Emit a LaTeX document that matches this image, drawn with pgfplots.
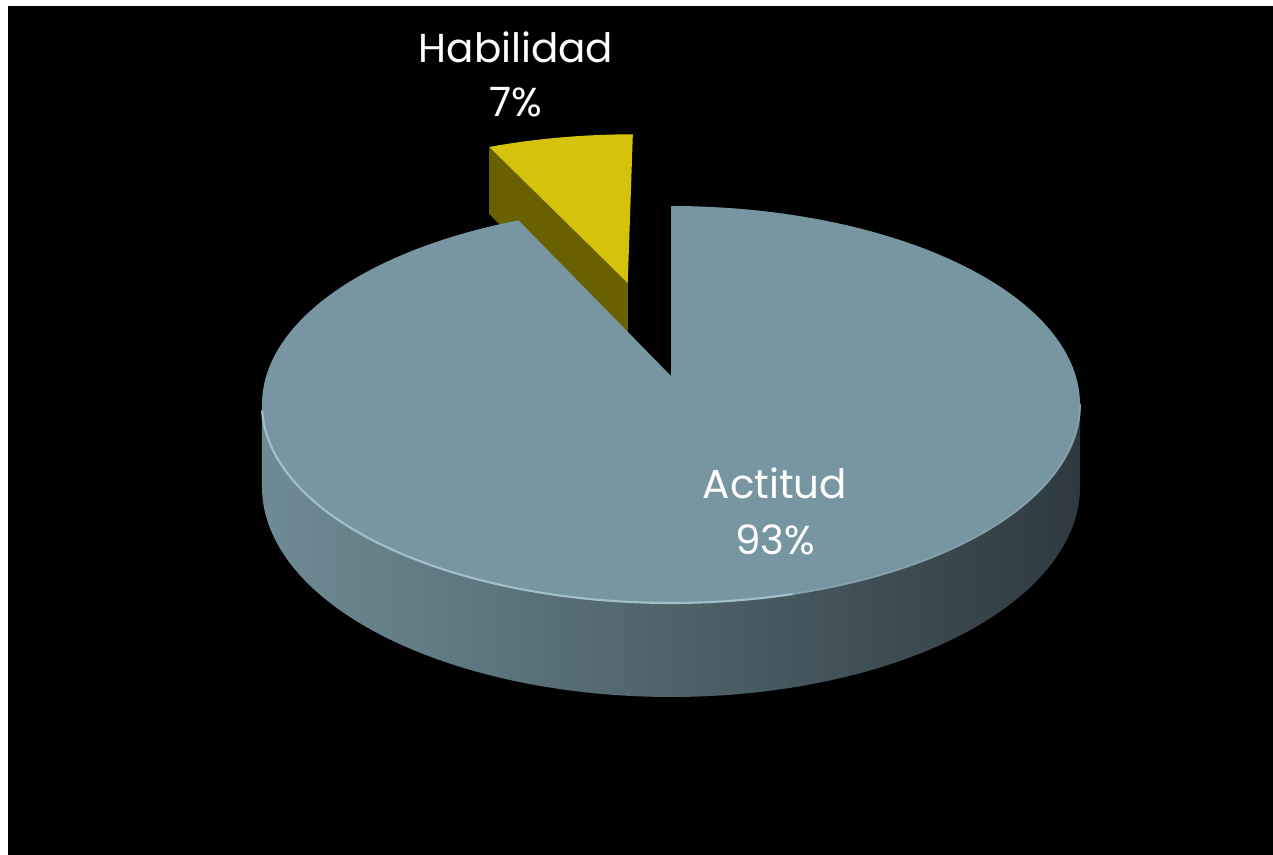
\documentclass[border=0pt]{standalone}
\usepackage{pgfplots}
\pgfplotsset{compat=1.18}
\usepackage{fontspec}
\setmainfont{Poppins}
\definecolor{topblue}{HTML}{7896A2}
\definecolor{rimblue}{HTML}{A3BFCA}
\definecolor{rimfaint}{HTML}{86A3AE}
\definecolor{sideL}{HTML}{6F8B95}
\definecolor{sideR}{HTML}{2E3A40}
\definecolor{habyellow}{HTML}{D4C20B}
\definecolor{habolive}{HTML}{696000}
% data (percent)
\def\valAct{93}
\def\valHab{7}
\tikzset{declare function={
  PX(\u,\v)=671+404.8*\u/(1+0.1436*\v);
  PY(\u,\v)=376-194.4*\v/(1+0.1436*\v);
  DP(\v)=80.5/(1+0.1436*\v);
  rr(\s)=((\s<-0.5)||(\s>200.5))?0:1;
  ang(\s,\ta,\tb)=\ta+(\tb-\ta)*min(max(\s,0),200)/200;
  sa(\s)=(\s<=200)?(188.26+163.48*\s/200):(351.74-163.48*(\s-201)/199);
  sd(\s)=(\s<=200)?0:1;
}}
\begin{document}
\begin{tikzpicture}
\pgfmathsetmacro\hS{90}
\pgfmathsetmacro\hE{90+3.6*\valHab}
\pgfmathsetmacro\aS{\hE}
\pgfmathsetmacro\aE{\hE+3.6*\valAct}
\pgfmathsetmacro\hM{(\hS+\hE)/2}
\pgfmathsetmacro\ox{0.526*cos(\hM)}
\pgfmathsetmacro\oy{0.526*sin(\hM)}
\pgfmathsetmacro\exu{\ox+cos(\hE)}
\pgfmathsetmacro\exv{\oy+sin(\hE)}
\pgfmathsetmacro\vxT{PX(\ox,\oy)}
\pgfmathsetmacro\vyT{PY(\ox,\oy)}
\pgfmathsetmacro\vyB{\vyT+DP(\oy)}
\pgfmathsetmacro\exT{PX(\exu,\exv)}
\pgfmathsetmacro\eyT{PY(\exu,\exv)}
\pgfmathsetmacro\eyB{\eyT+DP(\exv)}
\begin{axis}[width=12.73cm,height=8.55cm,scale only axis,
  xmin=0,xmax=1273,ymin=0,ymax=855,y dir=reverse,hide axis,no markers]
\fill[white] (axis cs:0,0) rectangle (axis cs:1273,855);
\fill[black] (axis cs:8,6) rectangle (axis cs:1273,855);
% Habilidad: cut face
\addplot[fill=habolive,draw=none] coordinates {(\vxT,\vyT) (\exT,\eyT) (\exT,\eyB) (\vxT,\vyB)};
% Habilidad: top
\addplot[fill=habyellow,draw=none,variable=\s,samples at={-1,0,...,201}]
  ({PX(\ox+rr(\s)*cos(ang(\s,\hS,\hE)),\oy+rr(\s)*sin(ang(\s,\hS,\hE)))},
   {PY(\ox+rr(\s)*cos(ang(\s,\hS,\hE)),\oy+rr(\s)*sin(ang(\s,\hS,\hE)))});
% Actitud: side
\addplot[draw=none,left color=sideL,right color=sideR,variable=\s,samples at={0,1,...,400}]
  ({PX(cos(sa(\s)),sin(sa(\s)))},
   {PY(cos(sa(\s)),sin(sa(\s)))+sd(\s)*DP(sin(sa(\s)))});
% Actitud: top
\addplot[fill=topblue,draw=none,variable=\s,samples at={-1,0,...,201}]
  ({PX(rr(\s)*cos(ang(\s,\aS,\aE)),rr(\s)*sin(ang(\s,\aS,\aE)))},
   {PY(rr(\s)*cos(ang(\s,\aS,\aE)),rr(\s)*sin(ang(\s,\aS,\aE)))});
% rim highlight
\addplot[draw=rimfaint,line width=0.5pt,variable=\t,domain=280:352,samples=60]
  ({PX(cos(\t),sin(\t))},{PY(cos(\t),sin(\t))});
\addplot[draw=rimblue,line width=0.6pt,variable=\t,domain=190:285,samples=80]
  ({PX(cos(\t),sin(\t))},{PY(cos(\t),sin(\t))});
\node[anchor=base,text=white,font=\fontsize{11.5}{14}\selectfont] at (axis cs:516,63) {Habilidad};
\node[anchor=base,text=white,font=\fontsize{11.5}{14}\selectfont] at (axis cs:516,117) {\valHab\%};
\node[anchor=base,text=white,font=\fontsize{11.5}{14}\selectfont] at (axis cs:775,499) {Actitud};
\node[anchor=base,text=white,font=\fontsize{11.5}{14}\selectfont] at (axis cs:775,555) {\valAct\%};
\end{axis}
\end{tikzpicture}
\end{document}
